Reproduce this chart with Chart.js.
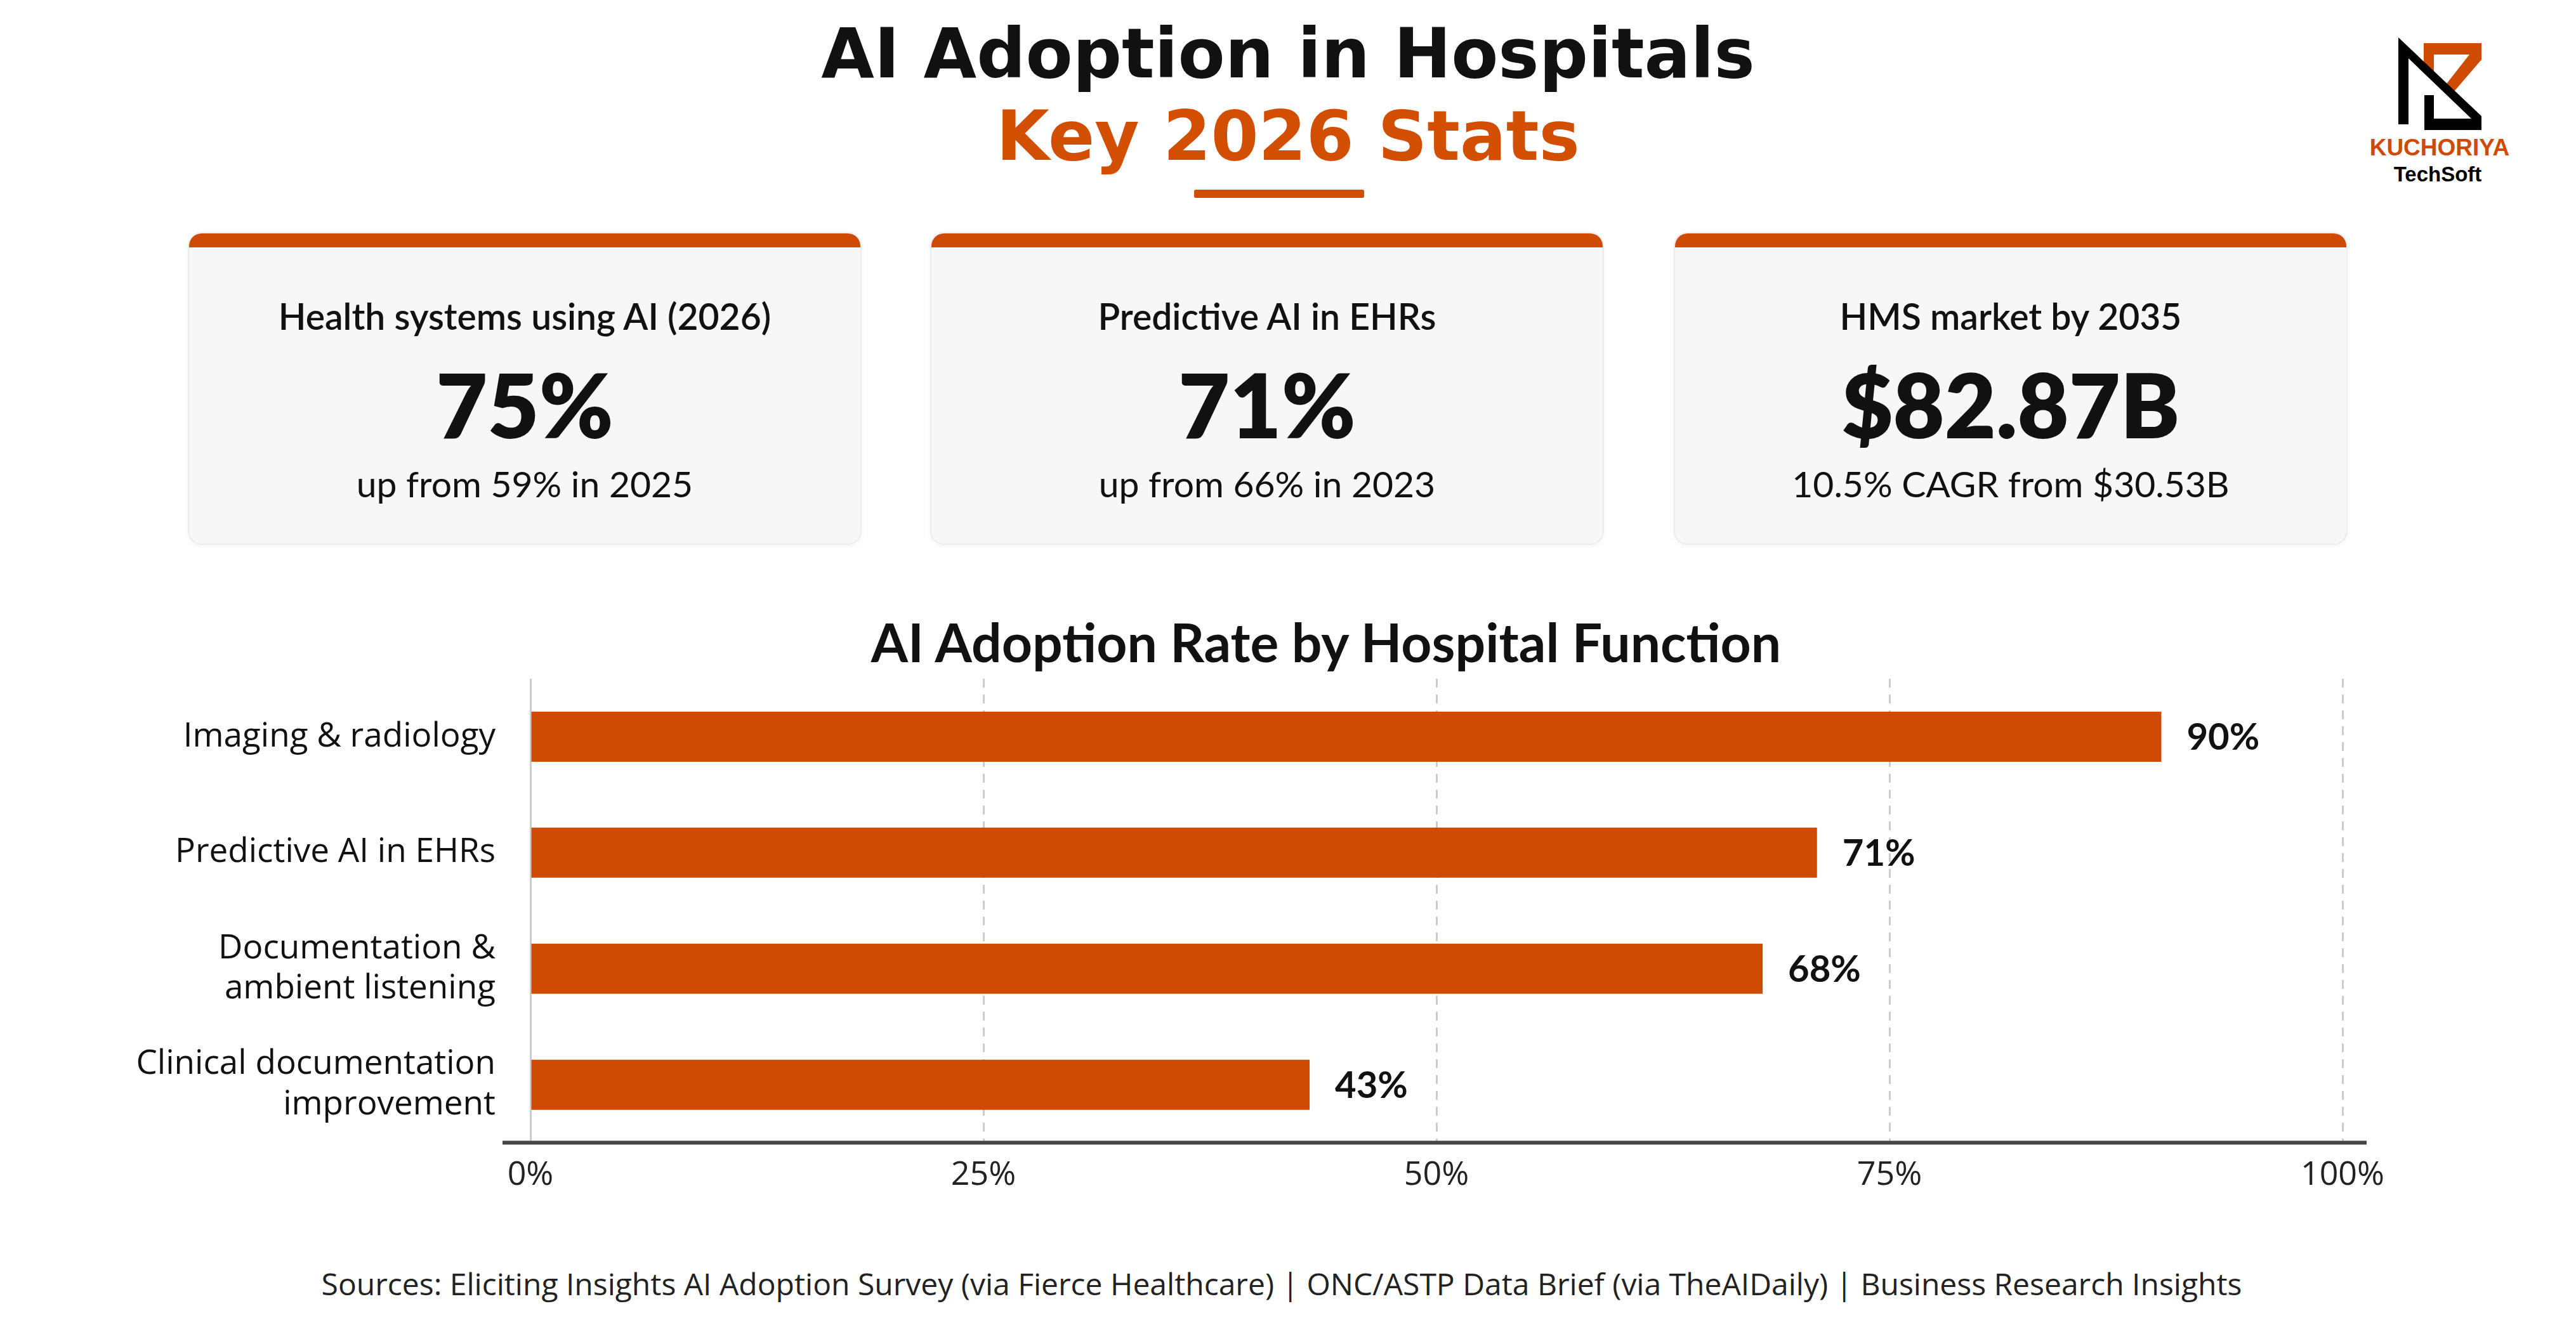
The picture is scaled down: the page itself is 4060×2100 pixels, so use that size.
<!DOCTYPE html>
<html>
<head>
<meta charset="utf-8">
<script src="https://cdn.jsdelivr.net/npm/chart.js@4.4.1/dist/chart.umd.min.js"></script>
<style>
  html, body { margin: 0; padding: 0; background: #ffffff; }
  #page { position: relative; width: 4060px; height: 2100px; overflow: hidden; background: #ffffff; }
  .abs { position: absolute; white-space: nowrap; line-height: 1; }
  .head { left: 0; width: 4060px; text-align: center; font-family: "DejaVu Sans", sans-serif; font-weight: bold; font-size: 108px; }
  .card { position: absolute; top: 366px; height: 493px; background: #f7f7f7; border: 2px solid #ececec;
          border-radius: 22px; overflow: hidden; box-shadow: 0 2px 8px rgba(0,0,0,0.05); box-sizing: border-box; }
  .card .bar { position: absolute; left: 0; top: 0; right: 0; height: 22px; background: #cf4a02; }
  .card div.t { position: absolute; left: 0; right: 0; text-align: center; line-height: 1; white-space: nowrap; color: #111; font-family: Lato, sans-serif; }
  .card .ttl { top: 102px; font-size: 57px; font-weight: 600; }
  .card .val { top: 199px; font-size: 140px; font-weight: 800; }
  .card .note { top: 366px; font-size: 57px; font-weight: 400; }
  #chartTitle { left: 0; width: 4180px; top: 970px; text-align: center; font-family: Lato, sans-serif; font-weight: bold; font-size: 84px; color: #111; }
  #chartBox { position: absolute; left: 120px; top: 1040px; width: 3940px; height: 880px; }
  #sources { left: 0; width: 4040px; top: 2000px; text-align: center; font-family: "Open Sans", sans-serif; font-size: 48px; color: #222; }
</style>
</head>
<body>
<div id="page">
  <div class="abs head" style="top:31px;color:#111;">AI Adoption in Hospitals</div>
  <div class="abs head" style="top:161px;color:#d24e01;">Key 2026 Stats</div>
  <div class="abs" style="left:1882px;top:299px;width:268px;height:13px;background:#d24e01;border-radius:3px;"></div>

  <svg class="abs" style="left:3700px;top:30px;" width="300" height="200" viewBox="0 0 300 200">
    <polygon fill="#cf4a02" points="120,38 211,38 211,64 168,114 156,102 192,56 136,56 136,85 120,70"/>
    <polygon fill="#000" points="80,29 211,153 211,175 121,175 121,120 136,120 136,157 195,157 96,62 96,166 80,166"/>
  </svg>
  <div class="abs" style="left:3645px;width:400px;text-align:center;top:214px;font-family:'Liberation Sans',sans-serif;font-weight:bold;font-size:37px;color:#cf4a02;">KUCHORIYA</div>
  <div class="abs" style="left:3642px;width:400px;text-align:center;top:258px;font-family:'Liberation Sans',sans-serif;font-weight:bold;font-size:33px;color:#000;">TechSoft</div>

  <div id="cards"></div>

  <div id="chartTitle" class="abs">AI Adoption Rate by Hospital Function</div>
  <div id="chartBox"><canvas id="chart"></canvas></div>

  <div id="sources" class="abs">Sources: Eliciting Insights AI Adoption Survey (via Fierce Healthcare) | ONC/ASTP Data Brief (via TheAIDaily) | Business Research Insights</div>
</div>

<script>
// stat cards
const cardTitles = ['Health systems using AI (2026)', 'Predictive AI in EHRs', 'HMS market by 2035']
const cardValues = ['75%', '71%', '$82.87B']
const cardNotes = ['up from 59% in 2025', 'up from 66% in 2023', '10.5% CAGR from $30.53B']

// bar chart
const functions = [
	'Imaging & radiology',
	'Predictive AI in EHRs',
	['Documentation &', 'ambient listening'],
	['Clinical documentation', 'improvement'],
]
const adoption = [90, 71, 68, 43]
const tickStep = 25

const orange = '#cf4a02'

const cardLefts = [296, 1466, 2638]
const cardsEl = document.getElementById('cards')
cardTitles.forEach((title, i) => {
	const card = document.createElement('div')
	card.className = 'card'
	card.style.left = cardLefts[i] + 'px'
	card.style.width = '1062px'
	card.innerHTML =
		'<div class="bar"></div>' +
		'<div class="t ttl">' + title + '</div>' +
		'<div class="t val">' + cardValues[i] + '</div>' +
		'<div class="t note">' + cardNotes[i] + '</div>'
	cardsEl.appendChild(card)
})

// value labels at the end of each bar
const barLabels = {
	id: 'barLabels',
	afterDatasetsDraw(chart) {
		const { ctx } = chart
		const meta = chart.getDatasetMeta(0)
		ctx.save()
		ctx.font = 'bold 58px Lato, sans-serif'
		ctx.fillStyle = '#111'
		ctx.textAlign = 'left'
		ctx.textBaseline = 'middle'
		meta.data.forEach((bar, i) => {
			ctx.fillText(adoption[i] + '%', bar.x + 40, bar.y + 2)
		})
		ctx.restore()
	},
}

// baseline that runs a little past the plot on both sides
const baseLine = {
	id: 'baseLine',
	afterDraw(chart) {
		const { ctx, chartArea } = chart
		ctx.save()
		ctx.strokeStyle = '#444'
		ctx.lineWidth = 6
		ctx.beginPath()
		ctx.moveTo(chartArea.left - 44, chartArea.bottom)
		ctx.lineTo(chartArea.right + 38, chartArea.bottom)
		ctx.stroke()
		ctx.restore()
	},
}

new Chart(document.getElementById('chart'), {
	type: 'bar',
	data: {
		labels: functions,
		datasets: [
			{
				data: adoption,
				backgroundColor: orange,
				borderWidth: 0,
				barPercentage: 0.9,
				categoryPercentage: 0.48,
			},
		],
	},
	options: {
		indexAxis: 'y',
		responsive: true,
		maintainAspectRatio: false,
		animation: false,
		layout: { padding: { left: 0, right: 368, top: 30, bottom: 16 } },
		plugins: {
			legend: { display: false },
			tooltip: { enabled: false },
		},
		scales: {
			x: {
				min: 0,
				max: 100,
				ticks: {
					stepSize: tickStep,
					callback: v => v + '%',
					color: '#222',
					padding: 20,
					font: { family: '"Open Sans", sans-serif', size: 52 },
				},
				grid: {
					color: '#cccccc',
					lineWidth: 3,
					drawTicks: false,
				},
				border: {
					display: false,
					dash: ctx => (ctx.tick && ctx.tick.value === 0 ? [] : [14, 11]),
				},
			},
			y: {
				afterFit: scale => {
					// fixed label column, and no extra room asked for above/below
					scale.width = 716
					scale.paddingTop = 0
					scale.paddingBottom = 0
				},
				ticks: {
					color: '#111',
					padding: 55,
					font: { family: '"Open Sans", sans-serif', size: 53, lineHeight: 1.2 },
				},
				grid: { display: false, drawTicks: false },
				border: { display: false },
			},
		},
	},
	plugins: [barLabels, baseLine],
})
</script>
</body>
</html>
